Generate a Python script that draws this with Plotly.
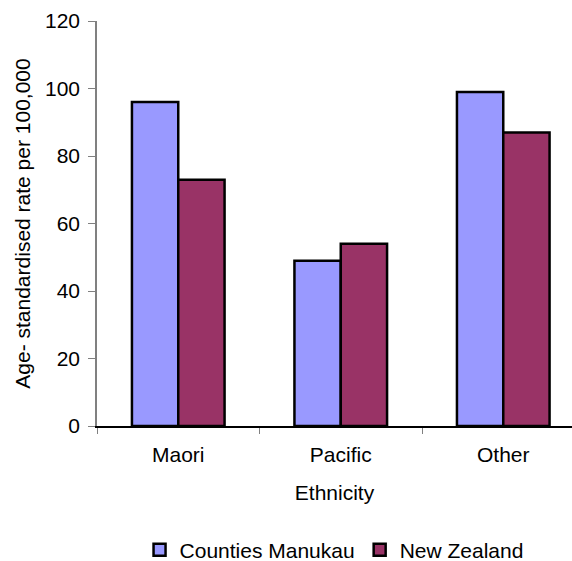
import plotly.graph_objects as go

categories = ["Maori", "Pacific", "Other"]
counties_manukau = [96, 49, 99]
new_zealand = [73, 54, 87]
y_ticks = [0, 20, 40, 60, 80, 100, 120]

FONT = "Liberation Sans, Arial, sans-serif"

fig = go.Figure()
fig.add_trace(go.Bar(
    x=categories, y=counties_manukau, name="Counties Manukau",
    marker=dict(color="#9999FF", line=dict(color="black", width=2.5)),
))
fig.add_trace(go.Bar(
    x=categories, y=new_zealand, name="New Zealand",
    marker=dict(color="#993366", line=dict(color="black", width=2.5)),
))

fig.update_layout(
    width=572, height=561,
    margin=dict(l=97, r=0, t=21, b=135, autoexpand=False),
    paper_bgcolor="white", plot_bgcolor="white",
    barmode="group", bargap=0.43, bargroupgap=0,
    font=dict(family=FONT, size=21, color="black"),
    showlegend=True,
    legend=dict(
        orientation="h", xref="container", yref="container",
        x=0.584, xanchor="center", y=0.0196, yanchor="middle",
        font=dict(size=21), itemwidth=30, traceorder="normal",
        tracegroupgap=0,
    ),
)

fig.update_xaxes(
    range=[-0.5, 2.423], automargin=False,
    showline=True, linecolor="black", linewidth=1.5,
    ticks="outside", tickson="boundaries", ticklen=6, tickcolor="#808080",
    showgrid=False, zeroline=False,
    ticklabelstandoff=9,
    title=dict(text="Ethnicity", standoff=20, font=dict(size=21)),
)
fig.update_yaxes(
    range=[0, 120], tickvals=y_ticks, automargin=False,
    showline=True, linecolor="#808080", linewidth=1.5,
    ticks="outside", ticklen=7, tickcolor="#808080",
    showgrid=False, zeroline=False,
    ticklabelstandoff=4,
    title=dict(text="Age- standardised rate per 100,000", standoff=9, font=dict(size=21)),
)

fig.write_html("out.html", config={"displayModeBar": False},
               post_script="document.body.style.margin='0';")
